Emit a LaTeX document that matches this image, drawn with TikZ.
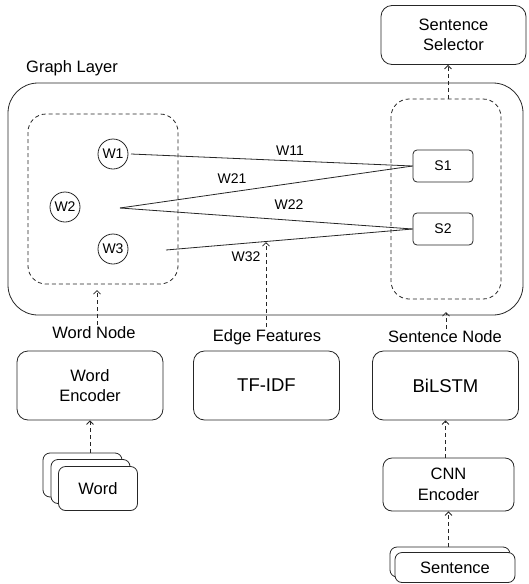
\documentclass[tikz,border=0pt]{standalone}
\usepackage{fontspec}
\setmainfont{Liberation Sans}
\usetikzlibrary{arrows.meta}
\tikzset{
  ln/.style={draw=black!85, line width=0.8pt},
  dsh/.style={ln, dash pattern=on 4pt off 3pt},
  box/.style={ln, rounded corners=11pt, fill=white, align=center, inner sep=0pt, font=\fontsize{16.5}{20.5}\selectfont},
  bigbox/.style={box, minimum width=146pt, minimum height=69pt},
  bigtxt/.style={font=\fontsize{18.5}{21}\selectfont},
  stk/.style={ln, rounded corners=7pt, fill=white, inner sep=0pt, font=\fontsize{16.5}{20}\selectfont},
  wnode/.style={ln, circle, minimum size=30pt, inner sep=0pt, font=\fontsize{14}{16}\selectfont},
  snode/.style={ln, rounded corners=4pt, minimum width=60pt, minimum height=32pt, inner sep=0pt, font=\fontsize{14}{16}\selectfont},
  lab/.style={font=\fontsize{16.5}{20}\selectfont, inner sep=0pt},
  wlab/.style={font=\fontsize{14}{16}\selectfont, inner sep=0pt},
  arr/.style={dsh, -{Straight Barb[length=3.5pt,width=7pt,line width=0.8pt]}},
  region/.style={ln, rounded corners=30pt},
  dregion/.style={dsh, rounded corners=18pt},
}
\begin{document}
\begin{tikzpicture}[x=1pt,y=-1pt]
\useasboundingbox (0,0) rectangle (529,584);
% top selector
\node[box, minimum width=145pt, minimum height=59pt] (sel) at (453.5,35) {Sentence\\Selector};
% graph layer
\node[lab, anchor=west] (gl) at (26,68) {Graph Layer};
\draw[region] (8,83) rectangle (523,315);
\coordinate (wbsw) at (28,284);
\draw[dregion] (28,114) rectangle (178,284);
\draw[dregion] (391,99) rectangle (501,299);
\coordinate (wbs) at (97,290);
\coordinate (sbn) at (448,99);
\coordinate (sbs) at (446,312);
\coordinate (edg) at (266,242);
% word nodes
\node[wnode] (w1) at (113,154) {W1};
\node[wnode] (w2) at (65,207) {W2};
\node[wnode] (w3) at (113,249) {W3};
\node[snode] (s1) at (443,166) {S1};
\node[snode] (s2) at (443,229) {S2};
\coordinate (a1) at (131,154);
\coordinate (a2) at (120,208);
\coordinate (a3) at (166,250);
\draw[ln] (a1) -- (s1.west);
\draw[ln] (a2) -- (s1.west);
\draw[ln] (a2) -- (s2.west);
\draw[ln] (a3) -- (s2.west);
\node[wlab] (l11) at (290,151) {W11};
\node[wlab] (l21) at (232,179) {W21};
\node[wlab] (l22) at (289,205) {W22};
\node[wlab] (l32) at (246,257) {W32};
\draw[arr] (sbn) -- (sbn |- sel.south);
% labels
\node[lab] (wn) at (94,333) {Word Node};
\node[lab] (ef) at (267,337) {Edge Features};
\node[lab] (sn) at (445,337) {Sentence Node};
\draw[arr] (wn.north -| wbs) ++(0,-2) -- (wbs);
\draw[arr] (ef.north -| edg) ++(0,-2) -- (edg);
\draw[arr] (sn.north -| sbs) ++(0,-2) -- (sbs);
% encoders
\node[bigbox] (we) at (90,385.5) {Word\\Encoder};
\node[bigbox, bigtxt] (tf) at (266.5,385.5) {TF-IDF};
\node[bigbox, bigtxt] (bl) at (445.5,385.5) {BiLSTM};
% word stack
\node[stk, minimum width=79pt, minimum height=44pt] (wk1) at (82.5,475) {};
\node[stk, minimum width=79pt, minimum height=44pt] (wk2) at (90.5,481.5) {};
\node[stk, minimum width=79pt, minimum height=44pt] (wk3) at (98,488.5) {Word};
\draw[arr] (wk1.north -| we) -- (we.south);
% CNN
\node[box, minimum width=131pt, minimum height=53pt, rounded corners=9pt] (cnn) at (448.5,484.5) {CNN\\Encoder};
\draw[arr] (cnn.north -| bl) -- (bl.south);
% sentence stack
\node[stk, minimum width=120pt, minimum height=30pt] (sk1) at (450,562) {};
\node[stk, minimum width=120pt, minimum height=30pt] (sk2) at (455,567.5) {Sentence};
\draw[arr] (sk1.north -| cnn) -- (cnn.south);
\end{tikzpicture}
\end{document}
